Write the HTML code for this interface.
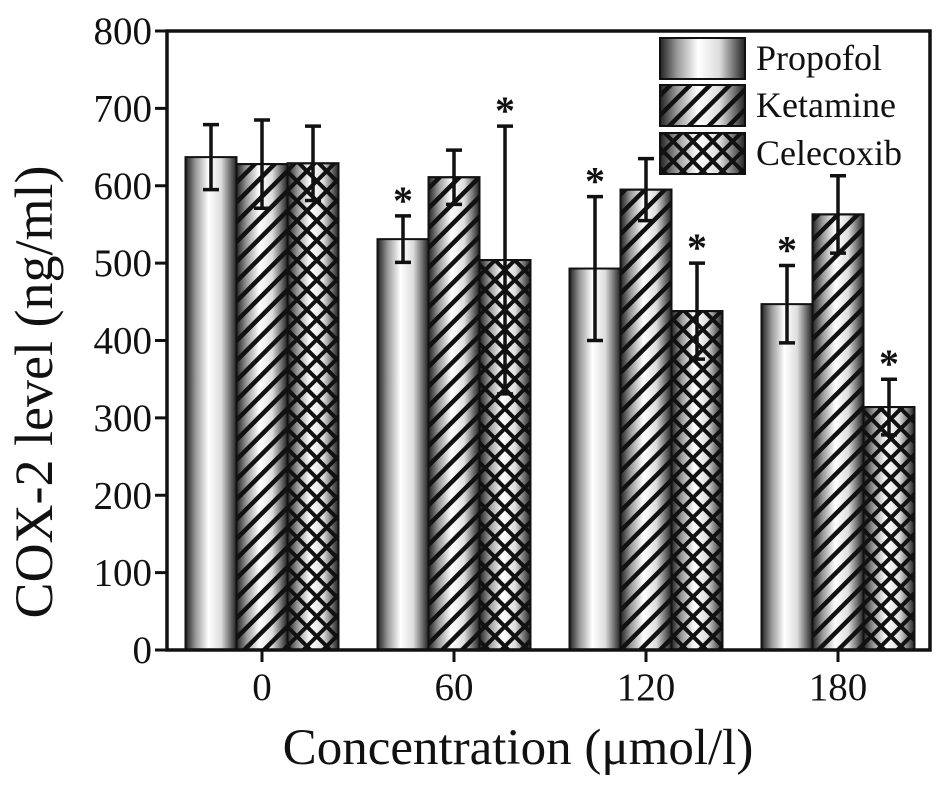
<!DOCTYPE html>
<html><head><meta charset="utf-8"><style>
html,body{margin:0;padding:0;background:#fff;}
svg text{font-family:"Liberation Serif",serif;fill:#111;}
</style></head><body>
<svg id="chart" width="945" height="782" viewBox="0 0 945 782" xmlns="http://www.w3.org/2000/svg">
<defs>
<linearGradient id="grad" x1="0" x2="1" y1="0" y2="0">
<stop offset="0" stop-color="#222"/><stop offset="0.2" stop-color="#999"/><stop offset="0.45" stop-color="#fff"/><stop offset="0.7" stop-color="#ddd"/><stop offset="1" stop-color="#222"/>
</linearGradient>
<pattern id="stripes" patternUnits="userSpaceOnUse" width="14" height="14" patternTransform="rotate(45)">
<rect x="0" y="0" width="4.5" height="14" fill="#111"/>
</pattern>
<pattern id="cross" patternUnits="userSpaceOnUse" width="14" height="14" patternTransform="rotate(45)">
<rect x="0" y="0" width="4" height="14" fill="#111"/><rect x="0" y="0" width="14" height="4" fill="#111"/>
</pattern>
</defs>
<g id="plot"></g>
<text transform="translate(52,392) rotate(-90)" text-anchor="middle" font-size="54">COX-2 level (ng/ml)</text>
<text x="518" y="764" text-anchor="middle" font-size="51">Concentration (μmol/l)</text>
</svg>
<script>
const categories = ["0", "60", "120", "180"];
const seriesNames = ["Propofol", "Ketamine", "Celecoxib"];
const propofol = [637, 531, 493, 447];
const ketamine = [628, 611, 595, 563];
const celecoxib = [629, 504, 438, 314];
const propofolErr = [42, 30, 93, 50];
const ketamineErr = [57, 35, 40, 50];
const celecoxibErr = [48, 173, 62, 36];
const propofolSig = [false, true, true, true];
const ketamineSig = [false, false, false, false];
const celecoxibSig = [false, true, true, true];
const yTicks = [0, 100, 200, 300, 400, 500, 600, 700, 800];

const NS = "http://www.w3.org/2000/svg";
const L = 167, R = 930, T = 31, B = 650, YMAX = 800;
const y = v => B - v / YMAX * (B - T);
const groupW = 192, barW = 51;
const xc = i => 262 + i * groupW;
const g = document.getElementById('plot');
function mk(tag, attrs, parent) {
  const e = document.createElementNS(NS, tag);
  for (const k in attrs) e.setAttribute(k, attrs[k]);
  (parent || g).appendChild(e);
  return e;
}
const series = [
  {vals: propofol, err: propofolErr, sig: propofolSig, pat: null},
  {vals: ketamine, err: ketamineErr, sig: ketamineSig, pat: "url(#stripes)"},
  {vals: celecoxib, err: celecoxibErr, sig: celecoxibSig, pat: "url(#cross)"}
];
series.forEach((s, si) => {
  s.vals.forEach((v, i) => {
    const x0 = xc(i) - 1.5 * barW + si * barW;
    const b = mk('rect', {x: x0, y: y(v), width: barW, height: B - y(v), fill: 'url(#grad)', stroke: '#111', 'stroke-width': 2});
    
    
    if (s.pat) {
      const p = mk('rect', {x: x0, y: y(v), width: barW, height: B - y(v), fill: s.pat, stroke: '#111', 'stroke-width': 2});
      
      
    }
    const cx = x0 + barW / 2, top = y(v + s.err[i]), bot = y(v - s.err[i]);
    const eb = mk('path', {d: `M${cx},${top}V${bot}M${cx-8},${top}H${cx+8}M${cx-8},${bot}H${cx+8}`, stroke: '#111', 'stroke-width': 3.5, fill: 'none'});
    
    
    if (s.sig[i]) {
      const t = mk('text', {x: cx, y: top - 2, 'text-anchor': 'middle', 'font-size': 40, 'font-weight': 'bold'});
      t.textContent = '*';
      
      
    }
  });
});
const fr = mk('rect', {x: L, y: T, width: R - L, height: B - T, fill: 'none', stroke: '#111', 'stroke-width': 3.5});


yTicks.forEach(v => {
  const tk = mk('line', {x1: L - 12, x2: L, y1: y(v), y2: y(v), stroke: '#111', 'stroke-width': 3});
  
  
  const t = mk('text', {x: 152, y: y(v) + 13, 'text-anchor': 'end', 'font-size': 39});
  t.textContent = v;
  
  
});
categories.forEach((c, i) => {
  const tk = mk('line', {x1: xc(i), x2: xc(i), y1: B, y2: B + 12, stroke: '#111', 'stroke-width': 3});
  
  
  const t = mk('text', {x: xc(i), y: B + 50, 'text-anchor': 'middle', 'font-size': 39});
  t.textContent = c;
  
  
});
const legY = [38, 85, 133];
seriesNames.forEach((n, si) => {
  const r = mk('rect', {x: 660, y: legY[si], width: 85, height: 41, fill: 'url(#grad)', stroke: '#111', 'stroke-width': 2});
  
  
  if (series[si].pat) {
    const p = mk('rect', {x: 660, y: legY[si], width: 85, height: 41, fill: series[si].pat, stroke: '#111', 'stroke-width': 2});
    
    
  }
  const t = mk('text', {x: 756, y: legY[si] + 32, 'font-size': 36});
  t.textContent = n;
  
  
});
</script>
</body></html>
